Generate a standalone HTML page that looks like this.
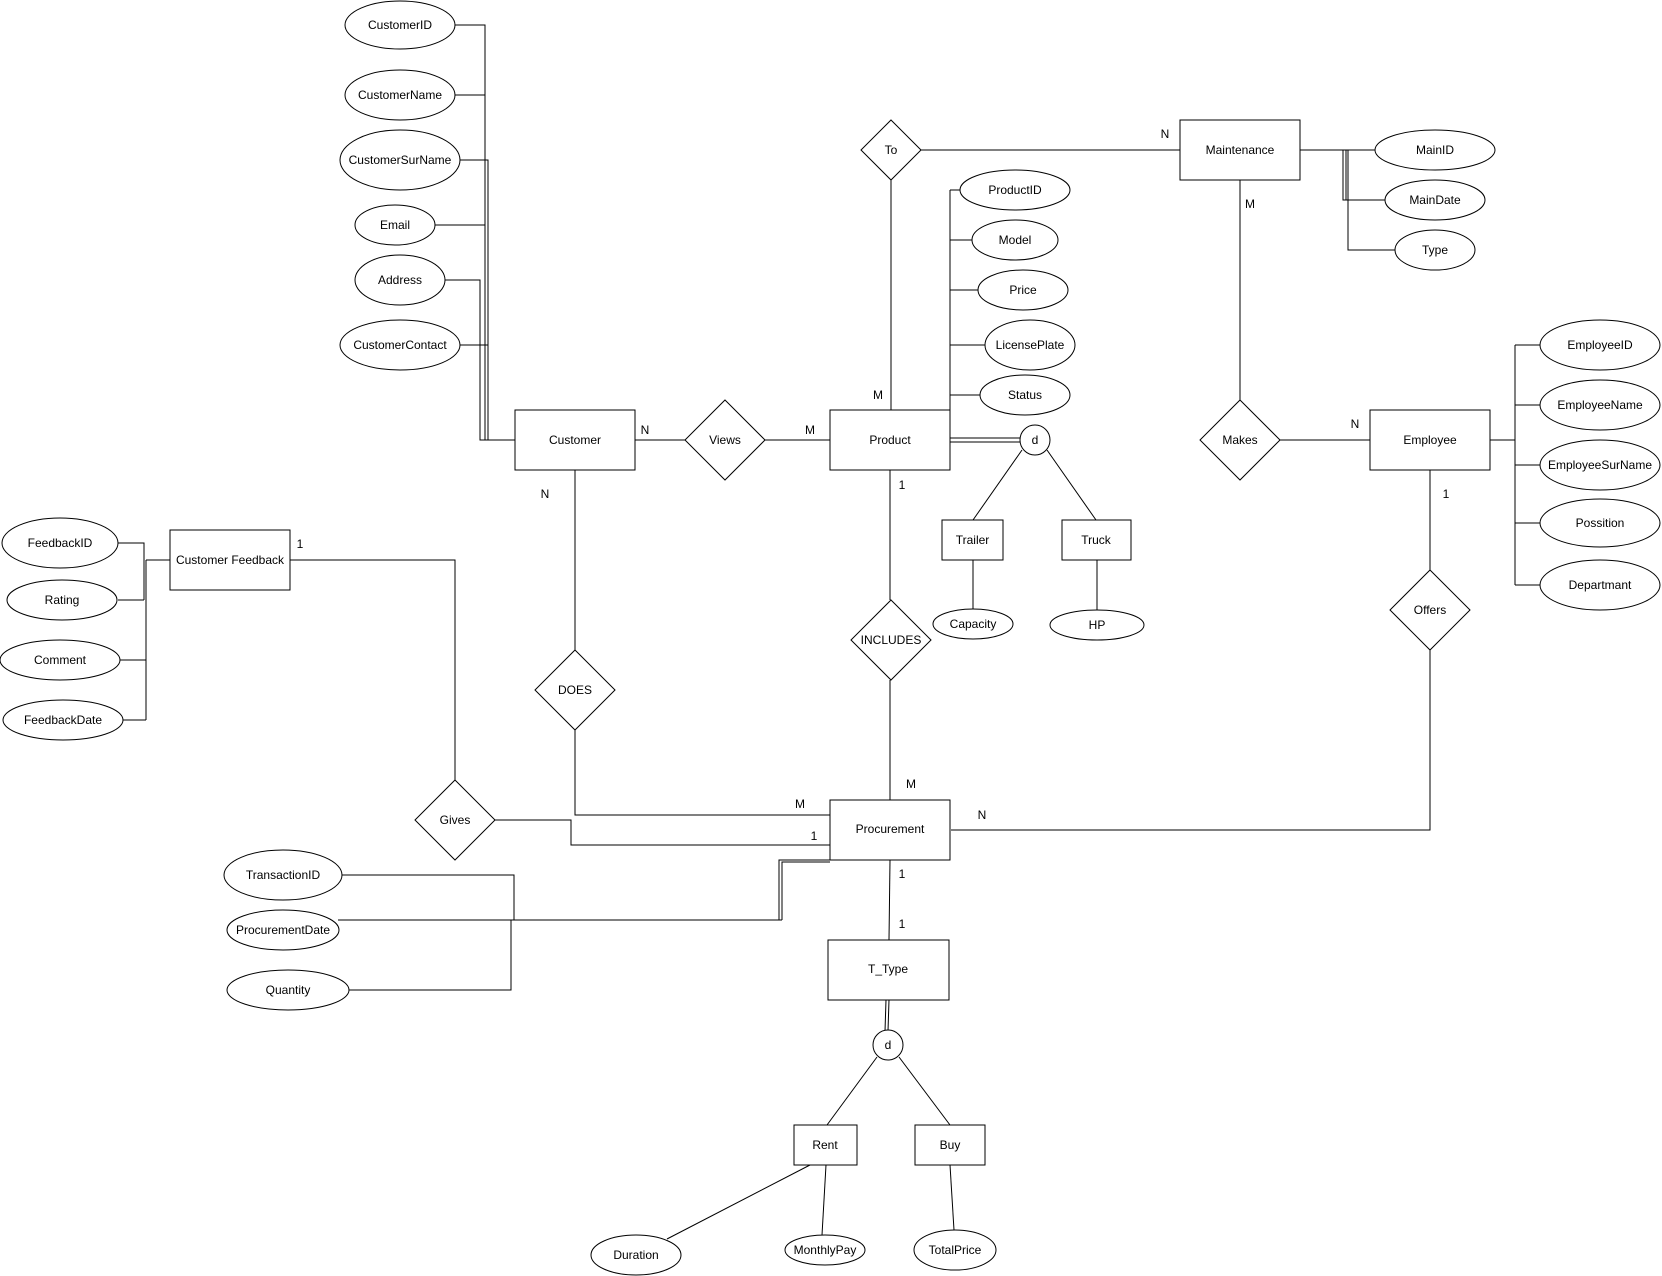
<!DOCTYPE html>
<html>
<head>
<meta charset="utf-8">
<style>
html,body{margin:0;padding:0;background:#fff;}
svg{display:block;}
text{font-family:"Liberation Sans",Arial,sans-serif;font-size:12px;fill:#000;text-anchor:middle;dominant-baseline:central;}
.s{fill:#fff;stroke:#000;stroke-width:1;}
.l{fill:none;stroke:#000;stroke-width:1;}
</style>
</head>
<body>
<svg width="1662" height="1276" viewBox="0 0 1662 1276" xmlns="http://www.w3.org/2000/svg">
<!-- Customer attribute connectors -->
<polyline class="l" points="455,25 485,25 485,440"/>
<line class="l" x1="455" y1="95" x2="485" y2="95"/>
<line class="l" x1="435" y1="225" x2="485" y2="225"/>
<polyline class="l" points="460,160 488,160 488,440"/>
<line class="l" x1="460" y1="345" x2="488" y2="345"/>
<polyline class="l" points="445,280 480,280 480,440 515,440"/>

<!-- Customer attributes -->
<ellipse class="s" cx="400" cy="25" rx="55" ry="24"/><text x="400" y="25">CustomerID</text>
<ellipse class="s" cx="400" cy="95" rx="55" ry="25"/><text x="400" y="95">CustomerName</text>
<ellipse class="s" cx="400" cy="160" rx="60" ry="30"/><text x="400" y="160">CustomerSurName</text>
<ellipse class="s" cx="395" cy="225" rx="40" ry="20"/><text x="395" y="225">Email</text>
<ellipse class="s" cx="400" cy="280" rx="45" ry="25"/><text x="400" y="280">Address</text>
<ellipse class="s" cx="400" cy="345" rx="60" ry="25"/><text x="400" y="345">CustomerContact</text>

<!-- Product attributes -->
<line class="l" x1="950" y1="190" x2="950" y2="410"/>
<line class="l" x1="950" y1="190" x2="960" y2="190"/>
<line class="l" x1="950" y1="240" x2="972" y2="240"/>
<line class="l" x1="950" y1="290" x2="978" y2="290"/>
<line class="l" x1="950" y1="345" x2="985" y2="345"/>
<line class="l" x1="950" y1="395" x2="980" y2="395"/>
<ellipse class="s" cx="1015" cy="190" rx="55" ry="20"/><text x="1015" y="190">ProductID</text>
<ellipse class="s" cx="1015" cy="240" rx="43" ry="20"/><text x="1015" y="240">Model</text>
<ellipse class="s" cx="1023" cy="290" rx="45" ry="20"/><text x="1023" y="290">Price</text>
<ellipse class="s" cx="1030" cy="345" rx="45" ry="25"/><text x="1030" y="345">LicensePlate</text>
<ellipse class="s" cx="1025" cy="395" rx="45" ry="20"/><text x="1025" y="395">Status</text>

<!-- To relationship -->
<line class="l" x1="921" y1="150" x2="1180" y2="150"/>
<line class="l" x1="891" y1="180" x2="891" y2="410"/>
<polygon class="s" points="891,120 921,150 891,180 861,150"/><text x="891" y="150">To</text>
<text x="1165" y="134">N</text>
<text x="878" y="395">M</text>

<!-- Maintenance -->
<line class="l" x1="1300" y1="150" x2="1375" y2="150"/>
<polyline class="l" points="1343,150 1343,200 1385,200"/>
<polyline class="l" points="1346,150 1346,200"/>
<polyline class="l" points="1348,150 1348,250 1395,250"/>
<rect class="s" x="1180" y="120" width="120" height="60"/><text x="1240" y="150">Maintenance</text>
<ellipse class="s" cx="1435" cy="150" rx="60" ry="20"/><text x="1435" y="150">MainID</text>
<ellipse class="s" cx="1435" cy="200" rx="50" ry="20"/><text x="1435" y="200">MainDate</text>
<ellipse class="s" cx="1435" cy="250" rx="40" ry="20"/><text x="1435" y="250">Type</text>
<text x="1250" y="204">M</text>

<!-- Makes -->
<line class="l" x1="1240" y1="180" x2="1240" y2="400"/>
<line class="l" x1="1280" y1="440" x2="1370" y2="440"/>
<polygon class="s" points="1240,400 1280,440 1240,480 1200,440"/><text x="1240" y="440">Makes</text>
<text x="1355" y="424">N</text>

<!-- Employee -->
<line class="l" x1="1490" y1="440" x2="1515" y2="440"/>
<line class="l" x1="1515" y1="345" x2="1515" y2="585"/>
<line class="l" x1="1515" y1="345" x2="1540" y2="345"/>
<line class="l" x1="1515" y1="405" x2="1540" y2="405"/>
<line class="l" x1="1515" y1="465" x2="1541" y2="465"/>
<line class="l" x1="1515" y1="523" x2="1540" y2="523"/>
<line class="l" x1="1515" y1="585" x2="1540" y2="585"/>
<rect class="s" x="1370" y="410" width="120" height="60"/><text x="1430" y="440">Employee</text>
<ellipse class="s" cx="1600" cy="345" rx="60" ry="25"/><text x="1600" y="345">EmployeeID</text>
<ellipse class="s" cx="1600" cy="405" rx="60" ry="25"/><text x="1600" y="405">EmployeeName</text>
<ellipse class="s" cx="1600" cy="465" rx="60" ry="25"/><text x="1600" y="465">EmployeeSurName</text>
<ellipse class="s" cx="1600" cy="523" rx="60" ry="24"/><text x="1600" y="523">Possition</text>
<ellipse class="s" cx="1600" cy="585" rx="60" ry="25"/><text x="1600" y="585">Departmant</text>
<text x="1446" y="494">1</text>

<!-- Offers -->
<line class="l" x1="1430" y1="470" x2="1430" y2="570"/>
<polyline class="l" points="1430,650 1430,830 951,830"/>
<polygon class="s" points="1430,570 1470,610 1430,650 1390,610"/><text x="1430" y="610">Offers</text>
<text x="982" y="815">N</text>

<!-- Customer / Views / Product -->
<line class="l" x1="635" y1="440" x2="685" y2="440"/>
<line class="l" x1="765" y1="440" x2="830" y2="440"/>
<rect class="s" x="515" y="410" width="120" height="60"/><text x="575" y="440">Customer</text>
<text x="645" y="430">N</text>
<polygon class="s" points="725,400 765,440 725,480 685,440"/><text x="725" y="440">Views</text>
<text x="810" y="430">M</text>
<rect class="s" x="830" y="410" width="120" height="60"/><text x="890" y="440">Product</text>
<text x="902" y="485">1</text>

<!-- Product specialization -->
<line class="l" x1="950" y1="438" x2="1020" y2="438"/>
<line class="l" x1="950" y1="442" x2="1020" y2="442"/>
<line class="l" x1="1022" y1="450" x2="973" y2="520"/>
<line class="l" x1="1047" y1="450" x2="1096" y2="520"/>
<circle class="s" cx="1035" cy="440" r="15"/><text x="1035" y="440">d</text>
<line class="l" x1="973" y1="560" x2="973" y2="610"/>
<line class="l" x1="1097" y1="560" x2="1097" y2="610"/>
<rect class="s" x="942" y="520" width="61" height="40"/><text x="972.5" y="540">Trailer</text>
<rect class="s" x="1062" y="520" width="69" height="40"/><text x="1096" y="540">Truck</text>
<ellipse class="s" cx="973" cy="624" rx="40" ry="15"/><text x="973" y="624">Capacity</text>
<ellipse class="s" cx="1097" cy="625" rx="47" ry="15"/><text x="1097" y="625">HP</text>

<!-- INCLUDES -->
<line class="l" x1="890" y1="470" x2="890" y2="600"/>
<line class="l" x1="890" y1="680" x2="890" y2="800"/>
<polygon class="s" points="891,600 931,640 891,680 851,640"/><text x="891" y="640">INCLUDES</text>
<text x="911" y="784">M</text>

<!-- DOES -->
<line class="l" x1="575" y1="470" x2="575" y2="650"/>
<polyline class="l" points="575,730 575,815 830,815"/>
<polygon class="s" points="575,650 615,690 575,730 535,690"/><text x="575" y="690">DOES</text>
<text x="545" y="494">N</text>
<text x="800" y="804">M</text>

<!-- Gives / Customer Feedback -->
<polyline class="l" points="290,560 455,560 455,780"/>
<polyline class="l" points="495,820 571,820 571,845 830,845"/>
<polygon class="s" points="455,780 495,820 455,860 415,820"/><text x="455" y="820">Gives</text>
<text x="814" y="836">1</text>
<polyline class="l" points="118,543 144,543 144,600"/>
<line class="l" x1="118" y1="600" x2="144" y2="600"/>
<line class="l" x1="146" y1="560" x2="170" y2="560"/>
<line class="l" x1="146" y1="560" x2="146" y2="720"/>
<line class="l" x1="120" y1="660" x2="146" y2="660"/>
<line class="l" x1="123" y1="720" x2="146" y2="720"/>
<rect class="s" x="170" y="530" width="120" height="60"/><text x="230" y="560">Customer Feedback</text>
<text x="300" y="544">1</text>
<ellipse class="s" cx="60" cy="543" rx="58" ry="25"/><text x="60" y="543">FeedbackID</text>
<ellipse class="s" cx="62" cy="600" rx="55" ry="20"/><text x="62" y="600">Rating</text>
<ellipse class="s" cx="60" cy="660" rx="60" ry="20"/><text x="60" y="660">Comment</text>
<ellipse class="s" cx="63" cy="720" rx="60" ry="20"/><text x="63" y="720">FeedbackDate</text>

<!-- Procurement attributes -->
<polyline class="l" points="342,875 514,875 514,920"/>
<line class="l" x1="338" y1="920" x2="782" y2="920"/>
<polyline class="l" points="779,920 779,860 830,860"/>
<polyline class="l" points="782,920 782,862 830,862"/>
<polyline class="l" points="349,990 511,990 511,920"/>
<ellipse class="s" cx="283" cy="875" rx="59" ry="25"/><text x="283" y="875">TransactionID</text>
<ellipse class="s" cx="283" cy="930" rx="56" ry="20"/><text x="283" y="930">ProcurementDate</text>
<ellipse class="s" cx="288" cy="990" rx="61" ry="20"/><text x="288" y="990">Quantity</text>

<rect class="s" x="830" y="800" width="120" height="60"/><text x="890" y="829">Procurement</text>

<!-- T_Type -->
<line class="l" x1="890" y1="860" x2="889" y2="940"/>
<text x="902" y="874">1</text>
<text x="902" y="924">1</text>
<rect class="s" x="828" y="940" width="121" height="60"/><text x="888" y="969">T_Type</text>
<line class="l" x1="886" y1="1000" x2="885" y2="1031"/>
<line class="l" x1="889" y1="1000" x2="888" y2="1031"/>
<line class="l" x1="877" y1="1057" x2="827" y2="1125"/>
<line class="l" x1="899" y1="1057" x2="950" y2="1125"/>
<circle class="s" cx="888" cy="1045" r="15"/><text x="888" y="1045">d</text>

<!-- Rent / Buy -->
<line class="l" x1="810" y1="1165" x2="667" y2="1239"/>
<line class="l" x1="826" y1="1165" x2="822" y2="1235"/>
<line class="l" x1="950" y1="1165" x2="954" y2="1230"/>
<rect class="s" x="794" y="1125" width="63" height="40"/><text x="825" y="1145">Rent</text>
<rect class="s" x="915" y="1125" width="70" height="40"/><text x="950" y="1145">Buy</text>
<ellipse class="s" cx="636" cy="1255" rx="45" ry="20"/><text x="636" y="1255">Duration</text>
<ellipse class="s" cx="825" cy="1250" rx="40" ry="15"/><text x="825" y="1250">MonthlyPay</text>
<ellipse class="s" cx="955" cy="1250" rx="41" ry="20"/><text x="955" y="1250">TotalPrice</text>
</svg>
</body>
</html>
